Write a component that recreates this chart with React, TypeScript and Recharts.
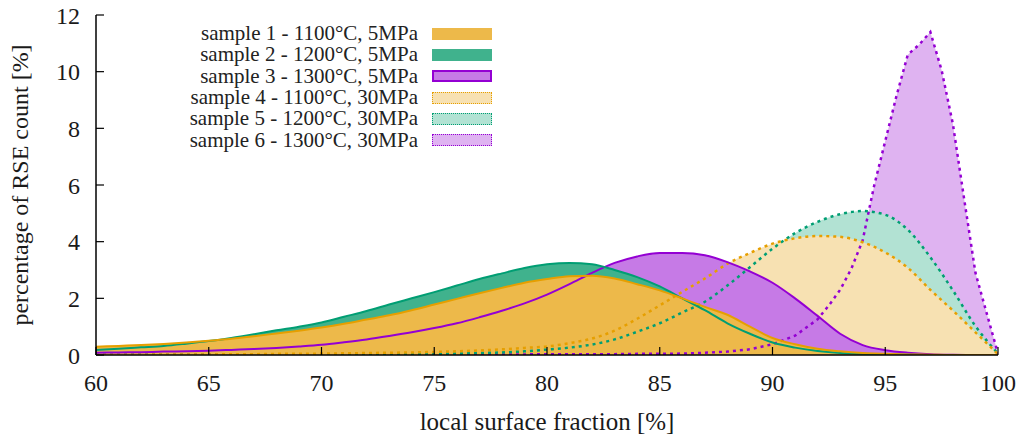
import { Area, ComposedChart, Line, XAxis, YAxis } from "recharts";

const fractions = [
  60, 61, 62, 63, 64, 65, 66, 67, 68, 69, 70, 71, 72, 73, 74, 75, 76, 77, 78, 79, 80,
  81, 82, 83, 84, 85, 86, 87, 88, 89, 90, 91, 92, 93, 94, 95, 96, 97, 98, 99, 100,
];

const sample1 = [
  0.29, 0.32, 0.35, 0.39, 0.44, 0.5, 0.57, 0.66, 0.76, 0.86, 0.97, 1.1, 1.25, 1.4, 1.58, 1.78, 1.98,
  2.18, 2.37, 2.55, 2.68, 2.78, 2.8, 2.7, 2.5, 2.28, 2.0, 1.7, 1.42, 1.0, 0.6, 0.38, 0.22, 0.13,
  0.07, 0.04, 0.02, 0.01, 0.0, 0.0, 0.0,
];
const sample2 = [
  0.18, 0.22, 0.27, 0.32, 0.4, 0.49, 0.6, 0.73, 0.87, 1.0, 1.15, 1.35, 1.55, 1.78, 2.0, 2.22, 2.45,
  2.68, 2.88, 3.07, 3.2, 3.25, 3.2, 3.0, 2.75, 2.42, 2.0, 1.58, 1.12, 0.75, 0.44, 0.26, 0.14, 0.07,
  0.04, 0.02, 0.01, 0.0, 0.0, 0.0, 0.0,
];
const sample3 = [
  0.08, 0.09, 0.1, 0.12, 0.13, 0.15, 0.18, 0.21, 0.25, 0.3, 0.36, 0.45, 0.55, 0.67, 0.8, 0.95, 1.12,
  1.33, 1.56, 1.82, 2.13, 2.5, 2.9, 3.25, 3.48, 3.6, 3.6, 3.52, 3.28, 2.95, 2.55, 2.0, 1.38, 0.75,
  0.35, 0.17, 0.08, 0.03, 0.01, 0.0, 0.0,
];
const sample4 = [
  0.01, 0.01, 0.01, 0.02, 0.02, 0.02, 0.03, 0.03, 0.04, 0.04, 0.05, 0.06, 0.07, 0.08, 0.09, 0.11,
  0.13, 0.16, 0.2, 0.25, 0.3, 0.42, 0.58, 0.86, 1.28, 1.75, 2.23, 2.7, 3.22, 3.6, 3.93, 4.12, 4.2,
  4.17, 3.98, 3.62, 3.08, 2.3, 1.57, 0.8, 0.03,
];
const sample5 = [
  0.01, 0.01, 0.01, 0.01, 0.01, 0.01, 0.01, 0.02, 0.02, 0.02, 0.02, 0.03, 0.03, 0.03, 0.04, 0.04,
  0.05, 0.07, 0.09, 0.13, 0.19, 0.26, 0.37, 0.55, 0.82, 1.12, 1.5, 1.88, 2.45, 3.1, 3.75, 4.3, 4.7,
  4.97, 5.08, 4.95, 4.42, 3.45, 2.28, 1.02, 0.05,
];
const sample6 = [
  0.01, 0.01, 0.01, 0.01, 0.01, 0.01, 0.01, 0.01, 0.01, 0.01, 0.01, 0.01, 0.01, 0.01, 0.01, 0.02,
  0.02, 0.02, 0.02, 0.02, 0.03, 0.03, 0.03, 0.03, 0.04, 0.04, 0.05, 0.08, 0.12, 0.2, 0.38, 0.68,
  1.26, 2.3, 4.05, 7.55, 10.6, 11.4, 8.15, 2.9, 0.05,
];
// sample 6 is sampled finer near its peak
const sample6HalfFractions = [92.5, 93.5, 94.5, 95.5, 96.5, 97.5, 98.5, 99.5];
const sample6Half = [1.75, 3.05, 5.95, 9.15, 10.95, 10.05, 5.5, 1.47];

const xTicks = [60, 65, 70, 75, 80, 85, 90, 95, 100];
const yTicks = [0, 2, 4, 6, 8, 10, 12];

const SERIF = "'Liberation Serif', 'Times New Roman', serif";

const SERIES = [
  { key: "s1", name: "sample 1 - 1100°C, 5MPa", stroke: "#e69f00", fill: "#edb94a", dashed: false },
  { key: "s2", name: "sample 2 - 1200°C, 5MPa", stroke: "#009e73", fill: "#40b28d", dashed: false },
  { key: "s3", name: "sample 3 - 1300°C, 5MPa", stroke: "#9400d3", fill: "#c67ae6", dashed: false },
  { key: "s4", name: "sample 4 - 1100°C, 30MPa", stroke: "#e69f00", fill: "#f7e1b2", dashed: true },
  { key: "s5", name: "sample 5 - 1200°C, 30MPa", stroke: "#009e73", fill: "#b2e2d3", dashed: true },
  { key: "s6", name: "sample 6 - 1300°C, 30MPa", stroke: "#9400d3", fill: "#dfb3f1", dashed: true },
];

type Row = { x: number; [k: string]: number };

const rows: Row[] = fractions.map((x, i) => ({
  x,
  s1: sample1[i],
  s2: sample2[i],
  s3: sample3[i],
  s4: sample4[i],
  s5: sample5[i],
  s6: sample6[i],
}));
sample6HalfFractions.forEach((x, i) => rows.push({ x, s6: sample6Half[i] }));
rows.sort((a, b) => a.x - b.x);

// fills go back to front, lines all drawn after the fills
const backToFront = [...SERIES].reverse();

function ChartLegend() {
  return (
    <div
      style={{
        position: "absolute",
        left: 100,
        top: 23,
        width: 392,
        fontFamily: SERIF,
        fontSize: 21,
        color: "#222",
      }}
    >
      {SERIES.map((s) => (
        <div
          key={s.key}
          style={{ display: "flex", justifyContent: "flex-end", alignItems: "center", height: 21.3 }}
        >
          <span style={{ lineHeight: "21px" }}>{s.name}</span>
          <span
            style={{
              display: "inline-block",
              boxSizing: "border-box",
              width: 60,
              height: 12,
              marginLeft: 14,
              background: s.fill,
              border: s.dashed
                ? `1.5px dotted ${s.stroke}`
                : `${s.key === "s3" ? 2 : 1}px solid ${s.key === "s3" ? s.stroke : s.fill}`,
            }}
          />
        </div>
      ))}
    </div>
  );
}

export default function App() {
  const tickStyle = { fill: "#1a1a1a", fontSize: 24, fontFamily: SERIF };
  const axisLine = { stroke: "#000", strokeWidth: 1.5 };
  return (
    <div style={{ position: "absolute", left: 0, top: 0, width: 1032, height: 441, background: "#fff" }}>
      <ComposedChart
        width={1032}
        height={441}
        data={rows}
        margin={{ top: 15, right: 34, bottom: 0, left: 0 }}
      >
        <XAxis
          dataKey="x"
          type="number"
          domain={[60, 100]}
          ticks={xTicks}
          allowDataOverflow
          height={86}
          tickSize={-8}
          tickMargin={27}
          tick={tickStyle}
          axisLine={axisLine}
          tickLine={{ stroke: "#000", strokeWidth: 1.2 }}
          label={{
            value: "local surface fraction [%]",
            position: "insideBottom",
            offset: 11,
            style: { fill: "#1a1a1a", fontSize: 25, fontFamily: SERIF },
          }}
        />
        <XAxis
          xAxisId="top"
          orientation="top"
          dataKey="x"
          type="number"
          domain={[60, 100]}
          ticks={xTicks}
          allowDataOverflow
          height={0}
          tickSize={-8}
          tickFormatter={() => ""}
          axisLine={axisLine}
          tickLine={{ stroke: "#000", strokeWidth: 1.2 }}
        />
        <YAxis
          type="number"
          domain={[0, 12]}
          ticks={yTicks}
          allowDataOverflow
          width={96}
          tickSize={-8}
          tickMargin={24}
          tick={tickStyle}
          axisLine={axisLine}
          tickLine={{ stroke: "#000", strokeWidth: 1.2 }}
          label={{
            value: "percentage of RSE count [%]",
            angle: -90,
            position: "insideLeft",
            offset: 19,
            style: { fill: "#1a1a1a", fontSize: 24, fontFamily: SERIF, textAnchor: "middle" },
          }}
        />
        <YAxis
          yAxisId="right"
          orientation="right"
          type="number"
          domain={[0, 12]}
          ticks={yTicks}
          allowDataOverflow
          width={0}
          tickSize={-8}
          tickFormatter={() => ""}
          axisLine={axisLine}
          tickLine={{ stroke: "#000", strokeWidth: 1.2 }}
        />
        {backToFront.map((s) => (
          <Area
            key={`fill-${s.key}`}
            dataKey={s.key}
            type={s.key === "s6" ? "linear" : "monotone"}
            fill={s.fill}
            fillOpacity={1}
            stroke="none"
            connectNulls
            isAnimationActive={false}
          />
        ))}
        {backToFront.map((s) => (
          <Line
            key={`line-${s.key}`}
            dataKey={s.key}
            type={s.key === "s6" ? "linear" : "monotone"}
            stroke={s.stroke}
            strokeWidth={s.dashed ? 2.5 : 2}
            strokeDasharray={s.dashed ? "3 4" : undefined}
            dot={false}
            activeDot={false}
            connectNulls
            isAnimationActive={false}
          />
        ))}
      </ComposedChart>
      <ChartLegend />
    </div>
  );
}
